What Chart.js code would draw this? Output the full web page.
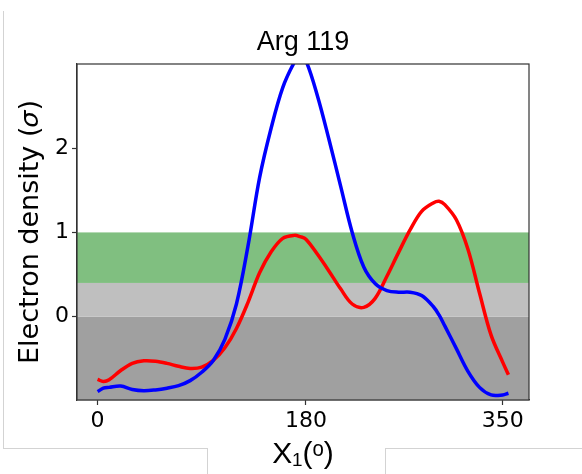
<!DOCTYPE html>
<html>
<head>
<meta charset="utf-8">
<script src="https://cdn.jsdelivr.net/npm/chart.js@4.4.0/dist/chart.umd.min.js"></script>
<style>
  html, body { margin: 0; padding: 0; background: #fff; }
  #wrap { position: relative; width: 582px; height: 474px; }
  #wrap canvas { position: absolute; left: 0; top: 0; }
  .edge { position: absolute; background: #d3d3d3; }
</style>
</head>
<body>
<div id="wrap">
  <canvas id="myChart" width="582" height="474"></canvas>
  <div class="edge" style="left:3px; top:11px; width:1px; height:438px;"></div>
  <div class="edge" style="left:3px; top:448px; width:205px; height:1px;"></div>
  <div class="edge" style="left:207px; top:448px; width:1px; height:26px;"></div>
  <div class="edge" style="left:385px; top:448px; width:1px; height:26px;"></div>
  <div class="edge" style="left:385px; top:448px; width:197px; height:1px;"></div>
</div>
<script>
const angles = [0, 5, 10, 20, 30, 40, 50, 60, 70, 80, 90, 100, 110, 120, 130, 140, 150, 160, 170, 175,
  180, 190, 200, 210, 220, 230, 240, 250, 260, 270, 280, 290, 295, 300, 310, 320, 330, 340, 350, 355];

const blueDensity = [-0.89, -0.85, -0.84, -0.825, -0.865, -0.88, -0.87, -0.85, -0.82, -0.76, -0.66, -0.52,
  -0.27, 0.15, 0.84, 1.65, 2.24, 2.72, 3.02, 3.1, 3.04, 2.62, 2.1, 1.55, 1.0, 0.59, 0.39, 0.31, 0.29,
  0.29, 0.25, 0.12, 0.02, -0.11, -0.38, -0.65, -0.84, -0.93, -0.93, -0.91];

const redDensity = [-0.745, -0.77, -0.75, -0.64, -0.555, -0.525, -0.53, -0.555, -0.59, -0.615, -0.6, -0.52,
  -0.37, -0.14, 0.17, 0.52, 0.77, 0.93, 0.965, 0.95, 0.92, 0.74, 0.54, 0.33, 0.15, 0.11, 0.22, 0.48, 0.76,
  1.03, 1.25, 1.35, 1.37, 1.33, 1.15, 0.8, 0.28, -0.22, -0.54, -0.69];

const xTicks = [0, 180, 350];
const yTicks = [0, 1, 2];

// shaded bands: dark gray below 0, light gray 0-0.4, green 0.4-1
const bandLow = [-1, 0, 0.4];
const bandHigh = [0, 0.4, 1];
const bandColors = ['#a0a0a0', '#bfbfbf', '#80bf80'];

const toPoints = (ys) => angles.map((a, i) => ({ x: a, y: ys[i] }));

const bands = {
  id: 'bands',
  beforeDatasetsDraw(chart) {
    const { ctx, chartArea: a, scales: { y } } = chart;
    ctx.save();
    bandLow.forEach((lo, i) => {
      const top = Math.max(y.getPixelForValue(bandHigh[i]), a.top);
      const bot = Math.min(y.getPixelForValue(lo), a.bottom);
      ctx.fillStyle = bandColors[i];
      ctx.fillRect(a.left, top, a.right - a.left, bot - top);
    });
    ctx.restore();
  },
  afterDatasetsDraw(chart) {
    const { ctx, chartArea: a } = chart;
    ctx.save();
    ctx.strokeStyle = '#333';
    ctx.lineWidth = 1.2;
    ctx.strokeRect(a.left, a.top, a.right - a.left, a.bottom - a.top);
    ctx.restore();
  }
};

const tickOpts = { color: '#000', font: { family: 'DejaVu Sans', size: 22 } };
const gridOpts = { drawOnChartArea: false, drawTicks: true, tickLength: 5, color: '#333', tickWidth: 1.2 };

const config = {
  type: 'line',
  data: {
    datasets: [{
      label: 'blue',
      data: toPoints(blueDensity),
      borderColor: '#0000ff',
      borderWidth: 3.5,
      pointRadius: 0,
      tension: 0.35,
      fill: false,
    },
    {
      label: 'red',
      data: toPoints(redDensity),
      borderColor: '#ff0000',
      borderWidth: 3.5,
      pointRadius: 0,
      tension: 0.35,
      fill: false,
    }]
  },
  options: {
    responsive: false,
    animation: false,
    layout: { padding: { left: 0, right: 53, top: 0, bottom: 0 } },
    plugins: {
      legend: { display: false },
      tooltip: { enabled: false },
      title: {
        display: true,
        text: 'Arg 119',
        fullSize: false,
        color: '#000',
        font: { family: 'Liberation Sans', size: 27, weight: 'normal', lineHeight: 1 },
        padding: { top: 29, bottom: 8 }
      }
    },
    scales: {
      x: {
        type: 'linear',
        min: -17.75,
        max: 372.75,
        afterBuildTicks: (s) => { s.ticks = xTicks.map(v => ({ value: v })); },
        afterFit: (s) => { s.height = 74; },
        ticks: { ...tickOpts, padding: 3, maxRotation: 0 },
        grid: gridOpts,
        border: { display: true, color: '#333', width: 1.2 },
        title: {
          display: true,
          text: 'X\u2081(\u1d52)',
          color: '#000',
          font: { family: 'Liberation Sans', size: 30, lineHeight: 1 },
          padding: { top: 0, bottom: 4 }
        }
      },
      y: {
        min: -0.99,
        max: 3.0,
        afterBuildTicks: (s) => { s.ticks = yTicks.map(v => ({ value: v })); },
        afterFit: (s) => { s.width = 77; },
        ticks: { ...tickOpts, padding: 3 },
        grid: gridOpts,
        border: { display: true, color: '#333', width: 1.2 },
        title: {
          display: true,
          text: 'Electron density (\u{1D70E})',
          color: '#000',
          font: { family: 'DejaVu Sans', size: 27, lineHeight: 1 },
          padding: { top: 17, bottom: 0 }
        }
      }
    }
  },
  plugins: [bands]
};

const myChart = new Chart(document.getElementById('myChart'), config);
</script>
</body>
</html>
